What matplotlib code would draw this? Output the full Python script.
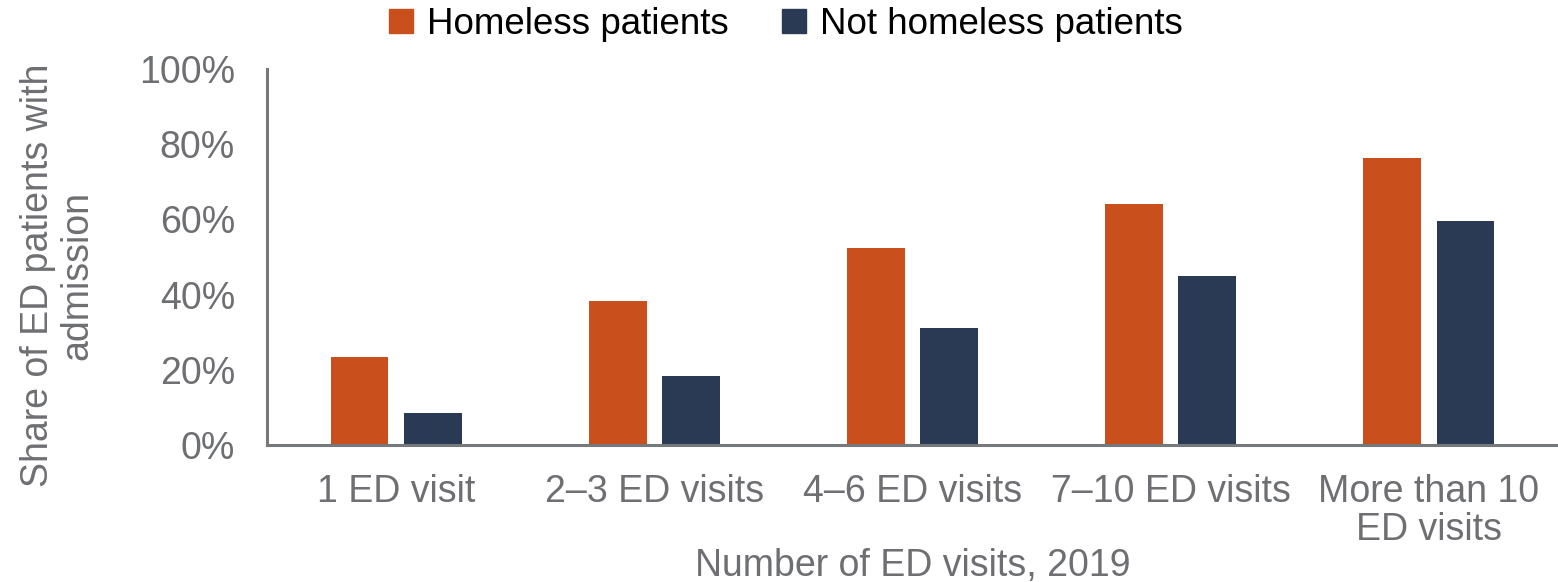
import matplotlib
matplotlib.use("Agg")
import matplotlib.pyplot as plt
import numpy as np
from matplotlib.patches import Patch

# ED visit buckets and share admitted (%)
categories = ["1 ED visit", "2\u20133 ED visits", "4\u20136 ED visits",
              "7\u201310 ED visits", "More than 10\nED visits"]
homeless = [23.4, 38.3, 52.4, 64.1, 76.4]
not_homeless = [8.6, 18.4, 31.1, 44.9, 59.6]
series_names = ["Homeless patients", "Not homeless patients"]
yticks = [0, 20, 40, 60, 80, 100]

ORANGE = "#C94F1C"
NAVY = "#2A3A55"
TEXT = "#6D6F72"
AXIS = "#76797C"

plt.rcParams["font.family"] = ["Liberation Sans", "DejaVu Sans"]

fig = plt.figure(figsize=(15.58, 5.82), dpi=100)
ax = fig.add_axes([267 / 1558, 1 - 445 / 582, (1558 - 267) / 1558, (445 - 69) / 582])

x = np.arange(len(categories))
w = 0.224
off = 0.142
ax.bar(x - off, homeless, w, color=ORANGE)
ax.bar(x + off, not_homeless, w, color=NAVY)

ax.set_xlim(-0.5, len(categories) - 0.5)
ax.set_ylim(0, 100)
ax.set_yticks(yticks)
ax.set_yticklabels([f"{v}%" for v in yticks])
ax.set_xticks(x)
ax.set_xticklabels(categories, linespacing=1.05)

for s in ["top", "right"]:
    ax.spines[s].set_visible(False)
for s in ["left", "bottom"]:
    ax.spines[s].set_color(AXIS)
    ax.spines[s].set_linewidth(2.2)

ax.tick_params(axis="both", length=0, labelsize=27, labelcolor=TEXT)
ax.tick_params(axis="x", pad=21)
ax.tick_params(axis="y", pad=23)
ax.set_xlabel("Number of ED visits, 2019", fontsize=27, color=TEXT, labelpad=0)
ax.set_ylabel("Share of ED patients with\nadmission", fontsize=27, color=TEXT,
              linespacing=1.13)
ax.yaxis.set_label_coords(-0.133, 0.45)

handles = [Patch(color=ORANGE), Patch(color=NAVY)]
fig.legend(handles, series_names, loc="upper center", ncol=2, frameon=False,
           bbox_to_anchor=(786 / 1558, 1.045), fontsize=26.5, handlelength=0.65,
           handleheight=0.65, handletextpad=0.38, columnspacing=1.45)

fig.savefig("out.png", dpi=100)
